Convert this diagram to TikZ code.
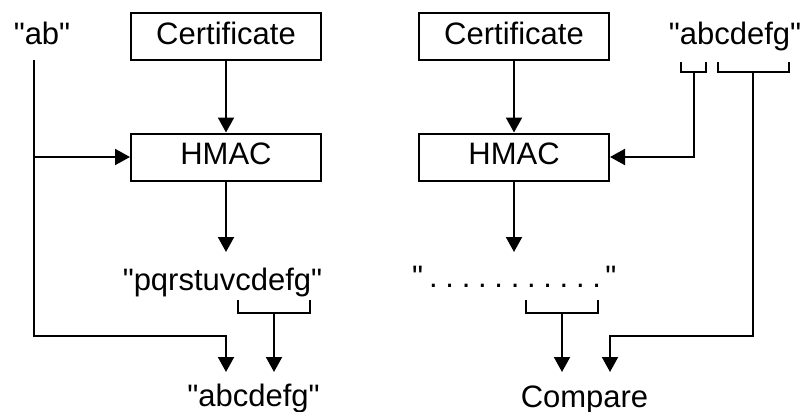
\documentclass[tikz,border=0pt]{standalone}
\usepackage{fontspec}
\setmainfont{Liberation Sans}[Ligatures=TeXOff]
\usetikzlibrary{arrows.meta}
% a dot followed by its gap in the elided string
\newcommand\elidot{.\hspace{7.7pt}}
\begin{document}
\begin{tikzpicture}[x=1pt,y=-1pt,
  every node/.style={font=\fontsize{31}{37}\selectfont},
  box/.style={draw,line width=2pt,minimum width=190pt,minimum height=47pt,inner sep=0pt,text depth=6pt},
  txt/.style={inner sep=0pt,anchor=base},
  wire/.style={line width=2pt},
  arr/.style={wire,-{Triangle[width=16pt,length=15pt]}}]
\useasboundingbox (0,0) rectangle (806,412);

% left chain: signing
\node[box] (certL) at (226,36.5) {Certificate};
\node[box] (hmacL) at (226,157) {HMAC};
\node[txt] (ab)   at (42,45)    {"ab"};
\node[txt] (pq)   at (222.5,290) {"pqrstuvcdefg"};
\node[txt] (outL) at (253.5,406) {"abcdefg"};

% right chain: verification
\node[box] (certR) at (514,36.5) {Certificate};
\node[box] (hmacR) at (514,157) {HMAC};
\node[txt] (key)  at (735,45)   {"abcdefg"};
\node[txt,anchor=base west] (dots) at (412,287)
  {"\hspace{6pt}\elidot\elidot\elidot\elidot\elidot\elidot\elidot\elidot\elidot\elidot.\hspace{4.4pt}"};
\node[txt] (cmp)  at (584.5,407) {Compare};

% left connectors
\coordinate (abOut) at (34,60);
\coordinate (abTap) at (34,157);
\coordinate (lowL)  at (34,336);
\coordinate (pqIn)  at (226,252);
\coordinate (outLa) at (226,372);
\coordinate (pqA)   at (238,300);
\coordinate (pqB)   at (310,300);
\coordinate (pqMid) at (274,313);
\coordinate (outLb) at (274,372);

\draw[arr] (certL) -- (hmacL);
\draw[arr] (hmacL) -- (pqIn);
\draw[arr] (abTap) -- (hmacL.west);
\draw[arr] (abOut) -- (lowL) -| (outLa);
\draw[wire] (pqA) -- ++(0,13) -| (pqB);
\draw[arr] (pqMid) -- (outLb);

% right connectors
\coordinate (kA1)  at (681,62);
\coordinate (kA2)  at (706,62);
\coordinate (kAm)  at (694,72);
\coordinate (kB1)  at (718,62);
\coordinate (kB2)  at (789,62);
\coordinate (kBm)  at (753,72);
\coordinate (kLow) at (753,336);
\coordinate (dotsIn) at (514,252);
\coordinate (dA)   at (526,300);
\coordinate (dB)   at (598,300);
\coordinate (dMid) at (562,313);
\coordinate (cmpA) at (562,372);
\coordinate (cmpB) at (610,372);

\draw[arr] (certR) -- (hmacR);
\draw[arr] (hmacR) -- (dotsIn);
\draw[wire] (kA1) -- ++(0,10) -| (kA2);
\draw[wire] (kB1) -- ++(0,10) -| (kB2);
\draw[arr] (kAm) |- (hmacR.east);
\draw[arr] (kBm) -- (kLow) -| (cmpB);
\draw[wire] (dA) -- ++(0,13) -| (dB);
\draw[arr] (dMid) -- (cmpA);
\end{tikzpicture}
\end{document}
